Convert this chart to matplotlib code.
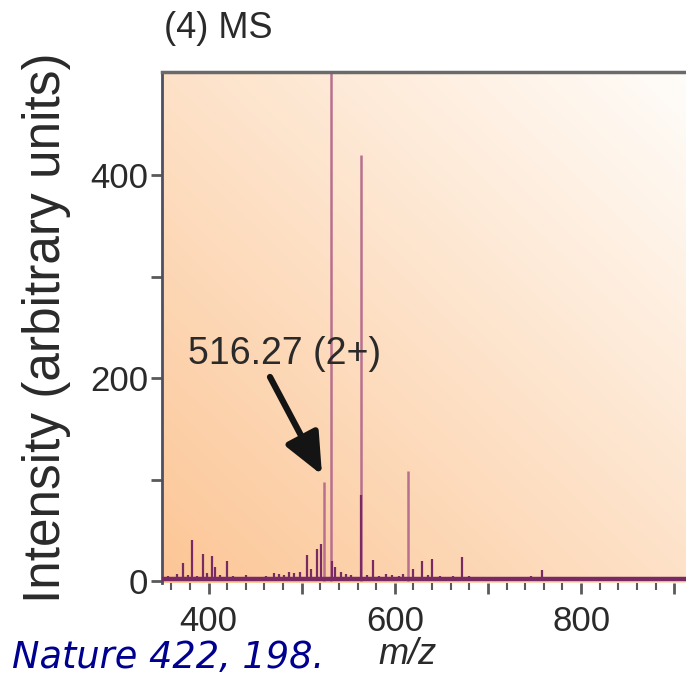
import matplotlib
matplotlib.use("Agg")
import matplotlib.pyplot as plt
import numpy as np
from matplotlib.patches import FancyArrowPatch

# ---- data ----
tall_mz = [531.6, 563.3, 524.3, 614.5]
tall_int = [620, 420, 98, 108]
small_mz = [373, 382.7, 393.5, 404, 407, 420, 470, 486, 506, 510, 516, 521, 533, 536,
            563.8, 576.6, 620, 629.6, 640, 672, 757.5]
small_int = [18, 40, 27, 25, 14, 20, 8, 9, 26, 12, 32, 36, 20, 14,
             85, 21, 12, 20, 22, 24, 11]
noise_mz = [356, 361, 366, 378, 388, 398, 412, 426, 432, 440, 447, 455, 462, 476, 481,
            492, 498, 542, 548, 553, 570, 583, 590, 597, 604, 609, 636, 648, 655, 662,
            680, 688, 697, 706, 716, 727, 738, 746, 752, 766, 775, 784, 795, 806, 817,
            826, 838, 849, 861, 873, 884, 896, 908]
noise_int = [5, 4, 7, 6, 5, 8, 6, 5, 4, 6, 3, 4, 5, 7, 6,
             8, 9, 9, 7, 6, 6, 5, 7, 6, 5, 7, 6, 5, 4, 5,
             5, 4, 3, 4, 3, 4, 3, 5, 4, 3, 4, 3, 4, 3, 3,
             4, 3, 3, 4, 3, 3, 3, 3]
x_ticks_major = [400, 500, 600, 700, 800, 900]
x_tick_labels = ["400", "", "600", "", "800", ""]
y_ticks = [0, 100, 200, 300, 400]
y_tick_labels = ["0", "", "200", "", "400"]
annot_text = "516.27 (2+)"
annot_label_pos = (378, 224)

plt.rcParams['font.family'] = ['Liberation Sans', 'DejaVu Sans']

fig = plt.figure(figsize=(6.86, 6.76), dpi=100)
ax = fig.add_axes([162/686, 1 - 583/676, 1 - 162/686 + 0.01, (583 - 72)/676])
ax.set_xlim(350, 920)
ax.set_ylim(-2, 502)

# background gradient
nx, ny = 200, 200
gx = np.linspace(0, 1, nx)[None, :]
gy = np.linspace(0, 1, ny)[:, None]
t = np.clip(0.5 * gx + 0.5 * gy, 0, 1)
c0 = np.array([252, 198, 150]) / 255.0
c1 = np.array([255, 253, 250]) / 255.0
img = c0[None, None, :] * (1 - t[..., None]) + c1[None, None, :] * t[..., None]
ax.imshow(img, extent=[0, 1, 0, 1], transform=ax.transAxes, origin='lower',
          aspect='auto', zorder=0)

dark = '#7a2a62'
light = '#b8708e'
ax.plot([350, 920], [1.5, 1.5], color=dark, lw=3.2, zorder=3, solid_capstyle='butt')
ax.vlines(noise_mz, 0, noise_int, color=dark, lw=1.6, zorder=3)
ax.vlines(small_mz, 0, small_int, color=dark, lw=1.6, zorder=3)
ax.vlines(tall_mz, 0, tall_int, color=light, lw=1.8, zorder=2)

# annotation
ax.text(annot_label_pos[0], annot_label_pos[1], annot_text, fontsize=27,
        color='#2a2a2a', ha='left', va='center', zorder=5)

def px(xp, yp):
    return (xp, 676 - yp)
arr = FancyArrowPatch(posA=px(270, 377), posB=px(322, 475),
                      arrowstyle='-|>,head_length=12.5,head_width=5.5',
                      lw=4.5, color='#141414', zorder=6, shrinkA=0, shrinkB=0,
                      transform=None, mutation_scale=2)
fig.patches.append(arr)

# spines
for s in ['right', 'bottom']:
    ax.spines[s].set_visible(False)
ax.spines['left'].set_color('#4c5060')
ax.spines['left'].set_linewidth(2)
ax.spines['top'].set_color('#6a6a6a')
ax.spines['top'].set_linewidth(2.5)

ax.set_xticks(x_ticks_major)
ax.set_xticklabels(x_tick_labels)
ax.set_xticks(np.arange(360, 920, 20), minor=True)
ax.set_yticks(y_ticks)
ax.set_yticklabels(y_tick_labels)
ax.tick_params(axis='x', which='major', length=8, width=2, color='#5a5a5a',
               labelsize=25, labelcolor='#2a2a2a', pad=8)
ax.tick_params(axis='x', which='minor', length=5, width=1.5, color='#5a5a5a')
ax.tick_params(axis='y', which='major', length=8, width=2, color='#5a5a5a',
               labelsize=25, labelcolor='#2a2a2a', pad=2)
ax.tick_params(top=False)

ax.set_ylabel('Intensity (arbitrary units)', fontsize=37, color='#2a2a2a', labelpad=14)

fig.text(218 / 686, 1 - 28 / 676, '(4) MS', fontsize=26, color='#2a2a2a',
         ha='center', va='center')
fig.text(408 / 686, 1 - 655 / 676, 'm/z', fontsize=26, color='#2a2a2a',
         style='italic', ha='center', va='center')
fig.text(324 / 686, 1 - 657 / 676, 'Nature 422, 198.', fontsize=26.5, color='#000090',
         style='italic', family='DejaVu Sans', ha='right', va='center')

fig.savefig('out.png', dpi=100)
